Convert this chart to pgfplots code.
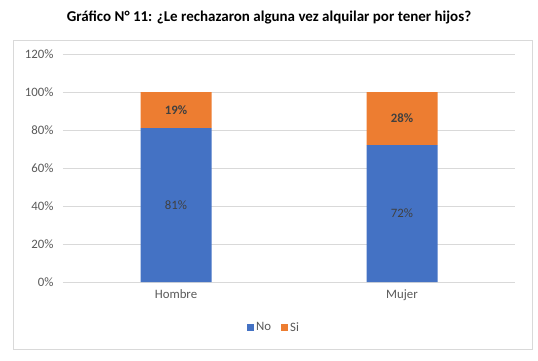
\documentclass[border=0pt]{standalone}
\usepackage{fontspec}
\setmainfont{Carlito}
\usepackage{pgfplots}
\pgfplotsset{compat=1.18}
\definecolor{cblue}{HTML}{4472C4}
\definecolor{corange}{HTML}{ED7D31}
\definecolor{cgrid}{HTML}{D9D9D9}
\definecolor{ctick}{HTML}{595959}
\definecolor{clabel}{HTML}{404040}
\begin{document}
\begin{tikzpicture}[x=1pt,y=1pt]
\path[use as bounding box] (0,0) rectangle (538,360);
\draw[cgrid, line width=0.8pt] (13,11) rectangle (532,320);
\node[font=\fontsize{15}{18}\selectfont\bfseries, text=black] at (269,343) {Gráfico N° 11: ¿Le rechazaron alguna vez alquilar por tener hijos?};
\pgfplotsset{common/.style={
  at={(63pt,78pt)}, anchor=south west, scale only axis, width=452pt, height=228pt,
  xmin=-0.5, xmax=1.5, ymin=0, ymax=120,
}}
\begin{axis}[common, ybar stacked, bar width=71pt,
  axis line style={draw=none},
  major tick length=0pt,
  ymajorgrids, grid style={cgrid, line width=0.8pt},
  ytick={0,20,40,60,80,100,120},
  yticklabels={0\%,20\%,40\%,60\%,80\%,100\%,120\%},
  xtick={0,1}, xticklabels={Hombre,Mujer},
  tick label style={font=\fontsize{12.8}{15}\selectfont, text=ctick},
  yticklabel style={xshift=-6pt},
  xticklabel style={yshift=-4pt},
  legend style={draw=none, at={(0.467,-0.2)}, anchor=center, legend columns=2,
    font=\fontsize{12.8}{15}\selectfont, text=ctick,
    /tikz/every even column/.append style={column sep=8pt}},
  legend image code/.code={\fill[#1] (0pt,-3.5pt) rectangle (7pt,3.5pt);},
]
\addplot[fill=cblue, draw=none] coordinates {(0,81) (1,72)};
\addplot[fill=corange, draw=none] coordinates {(0,19) (1,28)};
\legend{No,Si}
\end{axis}
\begin{axis}[common, hide axis]
\addplot[draw=none, nodes near coords, point meta=explicit symbolic,
  every node near coord/.append style={anchor=center, font=\fontsize{12.8}{15}\selectfont, text=clabel}]
  coordinates {(0,40.5)[81\%] (1,36)[72\%]};
\addplot[draw=none, nodes near coords, point meta=explicit symbolic,
  every node near coord/.append style={anchor=center, font=\fontsize{12.8}{15}\selectfont\bfseries, text=clabel}]
  coordinates {(0,90.5)[19\%] (1,86)[28\%]};
\end{axis}
\end{tikzpicture}
\end{document}
